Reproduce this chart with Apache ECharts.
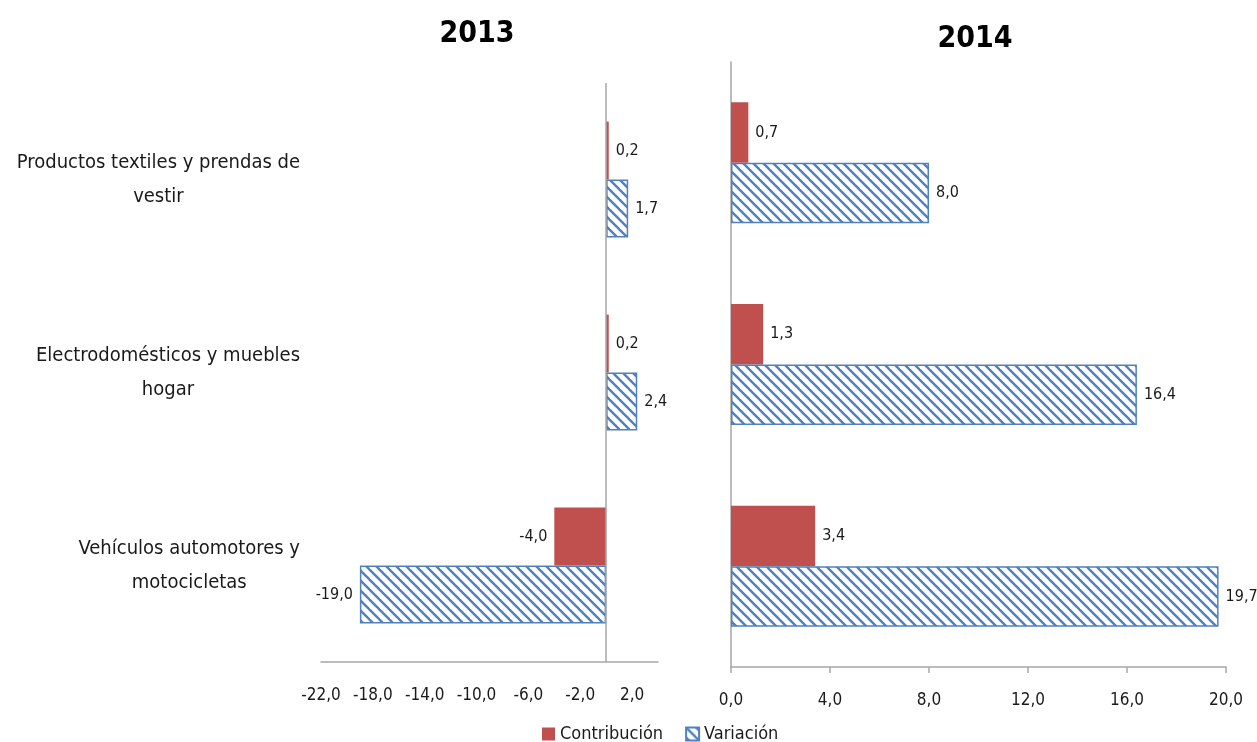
<!DOCTYPE html>
<html>
<head>
<meta charset="utf-8">
<script src="https://cdn.jsdelivr.net/npm/echarts@6/dist/echarts.min.js"></script>
<style>
html,body{margin:0;padding:0;background:#fff;}
#chart{width:1257px;height:742px;}
</style>
</head>
<body>
<div id="chart"></div>
<script>
const categories = ['Productos textiles y prendas de\nvestir', 'Electrodomésticos y muebles\nhogar', 'Vehículos automotores y\nmotocicletas'];
const seriesNames = ['Contribución', 'Variación'];
const panelTitles = ['2013', '2014'];
const contrib2013 = [0.2, 0.2, -4.0];
const var2013 = [1.7, 2.4, -19.0];
const contrib2014 = [0.7, 1.3, 3.4];
const var2014 = [8.0, 16.4, 19.7];
const axis2013 = {min: -22, max: 4, interval: 4};
const axis2014 = {min: 0, max: 20, interval: 4};

const FONT = "'Liberation Sans Narrow', 'DejaVu Sans Condensed', 'Liberation Sans', sans-serif";
const RED = '#c0504d';
const BLUE = '#4f81bd';
const AXIS = '#a6a6a6';
const TXT = '#1a1a1a';

function fmt(v) { return v.toFixed(1).replace('.', ','); }

// hatch pattern
const T = 10;
const tile = document.createElement('canvas');
tile.width = T; tile.height = T;
const g = tile.getContext('2d');
g.fillStyle = '#fff'; g.fillRect(0, 0, T, T);
g.strokeStyle = BLUE; g.lineWidth = 2.4;
for (const k of [-T, 0, T]) {
  g.beginPath(); g.moveTo(k - 1, -1); g.lineTo(k + T + 1, T + 1); g.stroke();
}
const hatch = {image: tile, repeat: 'repeat'};

function toData(arr) {
  return arr.map(v => ({value: v, label: {position: v < 0 ? 'left' : 'right'}}));
}

const labelCfg = {show: true, distance: 7, color: TXT, fontFamily: FONT, fontSize: 16, formatter: p => fmt(p.value)};

const chart = echarts.init(document.getElementById('chart'));
chart.setOption({
  animation: false,
  backgroundColor: '#fff',
  title: [
    {text: panelTitles[0], left: 472, top: 14, textAlign: 'center', textStyle: {fontFamily: FONT, fontWeight: 'bold', fontSize: 30, color: '#000'}},
    {text: panelTitles[1], left: 970, top: 19, textAlign: 'center', textStyle: {fontFamily: FONT, fontWeight: 'bold', fontSize: 30, color: '#000'}}
  ],
  legend: {
    data: seriesNames, left: 537, top: 720, itemWidth: 13, itemHeight: 13, itemGap: 22, icon: 'rect',
    textStyle: {fontFamily: FONT, fontSize: 18, color: TXT}
  },
  grid: [
    {left: 321, width: 337, top: 83, height: 579, outerBoundsMode: 'none', containLabel: false},
    {left: 731, width: 495, top: 62, height: 605, outerBoundsMode: 'none', containLabel: false}
  ],
  xAxis: [
    {type: 'value', gridIndex: 0, min: axis2013.min, max: axis2013.max, interval: axis2013.interval,
      axisLine: {show: true, lineStyle: {color: AXIS, width: 1.5}}, axisTick: {show: false}, splitLine: {show: false},
      axisLabel: {margin: 25, showMaxLabel: false, color: TXT, fontFamily: FONT, fontSize: 17, formatter: v => fmt(v)}},
    {type: 'value', gridIndex: 1, min: axis2014.min, max: axis2014.max, interval: axis2014.interval,
      axisLine: {show: true, lineStyle: {color: AXIS, width: 1.5}}, axisTick: {show: true, length: 6, lineStyle: {color: AXIS, width: 1.5}}, splitLine: {show: false},
      axisLabel: {margin: 25, color: TXT, fontFamily: FONT, fontSize: 17, formatter: v => fmt(v)}}
  ],
  yAxis: [
    {type: 'category', gridIndex: 0, data: categories, inverse: true,
      axisLine: {show: false}, axisTick: {show: false},
      axisLabel: {margin: 21, formatter: v => v.split('\n').map(l => '{a|' + l + '}').join('\n'),
        rich: {a: {align: 'center', fontFamily: FONT, fontSize: 20, lineHeight: 34, color: TXT}}}},
    {type: 'category', gridIndex: 1, data: categories, inverse: true,
      axisLine: {show: true, lineStyle: {color: AXIS, width: 1.5}}, axisTick: {show: false}, axisLabel: {show: false}}
  ],
  series: [
    {name: seriesNames[0], type: 'bar', xAxisIndex: 0, yAxisIndex: 0, data: toData(contrib2013), barWidth: '30%', barGap: '0%',
      itemStyle: {color: RED}, label: labelCfg,
      markLine: {silent: true, symbol: 'none', label: {show: false}, lineStyle: {color: AXIS, width: 1.5, type: 'solid'}, data: [{xAxis: 0}]}},
    {name: seriesNames[1], type: 'bar', xAxisIndex: 0, yAxisIndex: 0, data: toData(var2013), barWidth: '30%', barGap: '0%',
      itemStyle: {color: hatch, borderColor: BLUE, borderWidth: 1.5}, label: labelCfg},
    {name: seriesNames[0], type: 'bar', xAxisIndex: 1, yAxisIndex: 1, data: toData(contrib2014), barWidth: '30%', barGap: '0%',
      itemStyle: {color: RED}, label: labelCfg},
    {name: seriesNames[1], type: 'bar', xAxisIndex: 1, yAxisIndex: 1, data: toData(var2014), barWidth: '30%', barGap: '0%',
      itemStyle: {color: hatch, borderColor: BLUE, borderWidth: 1.5}, label: labelCfg}
  ]
});
</script>
</body>
</html>
